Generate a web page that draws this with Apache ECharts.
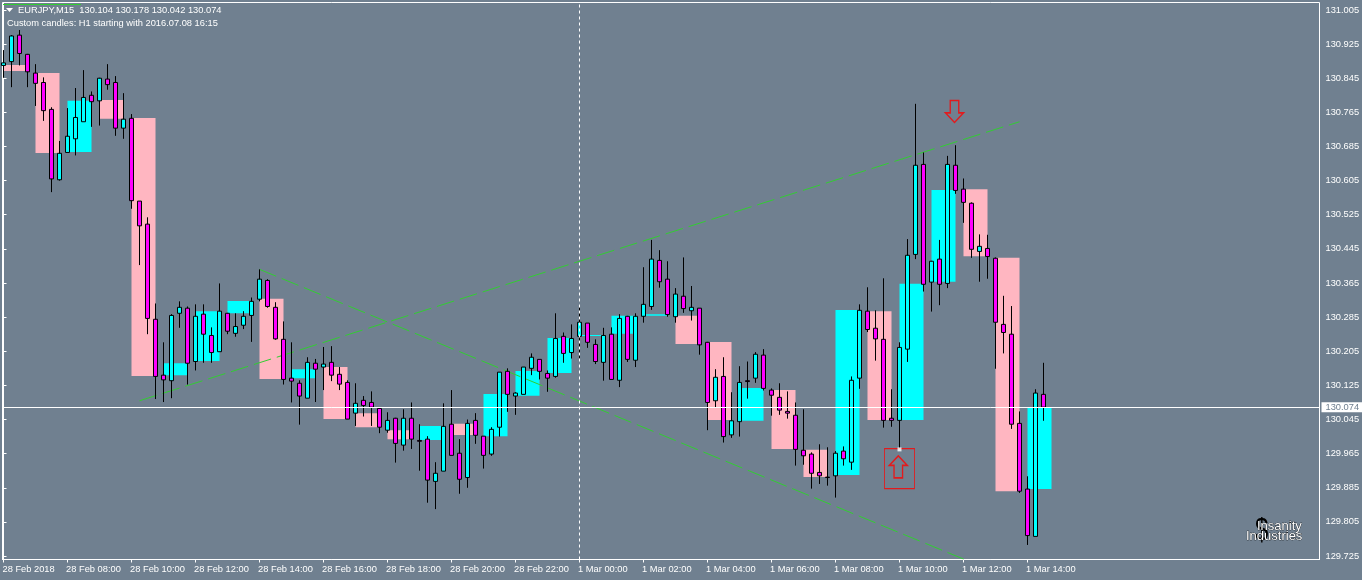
<!DOCTYPE html>
<html>
<head>
<meta charset="utf-8">
<title>EURJPY,M15</title>
<style>
html, body { margin: 0; padding: 0; background: #708090; }
#chart { width: 1362px; height: 580px; }
</style>
<script src="https://cdn.jsdelivr.net/npm/echarts@6/dist/echarts.min.js"></script>
</head>
<body>
<div id="chart"></div>
<script>
// M15 candles, one value per bar
const candleOpen = [
    130.875,130.884,130.946,130.901,130.857,130.835,130.772,130.607,130.671,130.703,
    130.743,130.805,130.792,130.843,130.835,130.728,130.751,130.557,130.503,130.280,
    130.149,130.136,130.294,130.306,130.181,130.292,130.242,130.204,130.294,130.247,
    130.266,130.289,130.327,130.371,130.308,130.233,130.142,130.130,130.095,130.177,
    130.168,130.179,130.151,130.132,130.060,130.090,130.085,130.071,130.020,130.048,
    129.985,130.048,129.996,129.999,129.900,129.924,130.034,129.966,129.909,130.043,
    130.006,129.964,130.027,130.158,130.100,130.104,130.165,130.186,130.153,130.146,
    130.240,130.202,130.240,130.271,130.221,130.179,130.245,130.137,130.287,130.184,
    130.287,130.310,130.418,130.374,130.286,130.334,130.300,130.306,130.226,130.089,
    130.146,130.009,130.040,130.136,130.142,130.196,130.114,130.097,130.064,130.055,
    129.973,129.964,129.921,129.910,129.913,129.971,129.945,130.142,130.299,130.259,
    130.233,130.048,130.043,130.210,130.432,130.643,130.367,130.421,130.364,130.641,
    130.585,130.552,130.439,130.446,130.423,130.268,130.245,130.036,129.882,129.771,130.104
];
const candleClose = [
    130.881,130.944,130.903,130.860,130.833,130.769,130.609,130.669,130.709,130.753,
    130.800,130.790,130.845,130.830,130.728,130.749,130.558,130.499,130.282,130.146,
    130.138,130.289,130.308,130.177,130.287,130.245,130.202,130.299,130.252,130.263,
    130.287,130.322,130.374,130.310,130.234,130.139,130.135,130.100,130.179,130.163,
    130.175,130.149,130.128,130.046,130.083,130.078,130.074,130.027,130.043,129.989,
    130.048,129.999,129.994,129.903,129.919,130.029,129.961,129.905,130.036,130.008,
    129.961,130.022,130.156,130.104,130.107,130.168,130.191,130.158,130.142,130.235,
    130.200,130.235,130.273,130.226,130.181,130.242,130.139,130.282,130.186,130.287,
    130.315,130.421,130.368,130.291,130.339,130.305,130.308,130.220,130.085,130.144,
    130.005,130.042,130.132,130.134,130.198,130.118,130.102,130.067,130.060,129.975,
    129.960,129.919,129.913,129.909,129.966,129.953,130.137,130.301,130.256,130.234,
    130.043,130.043,130.214,130.430,130.641,130.362,130.416,130.362,130.643,130.582,
    130.554,130.444,130.451,130.427,130.273,130.249,130.034,129.877,129.773,130.107,130.074
];
const candleLow = [
    130.846,130.824,130.875,130.824,130.780,130.745,130.578,130.605,130.671,130.664,
    130.743,130.731,130.734,130.818,130.710,130.703,130.539,130.407,130.245,130.093,
    130.086,130.095,130.260,130.127,130.160,130.178,130.178,130.204,130.245,130.239,
    130.257,130.227,130.322,130.307,130.232,130.127,130.085,130.033,130.095,130.086,
    130.114,130.135,130.114,130.046,130.030,130.052,130.030,130.013,130.014,129.944,
    129.972,129.976,129.925,129.850,129.835,129.924,129.961,129.871,129.885,129.988,
    129.930,129.960,130.005,130.063,130.056,130.104,130.149,130.139,130.110,130.143,
    130.178,130.188,130.188,130.213,130.175,130.136,130.139,130.121,130.180,130.168,
    130.272,130.302,130.354,130.286,130.272,130.295,130.277,130.197,130.020,130.073,
    129.991,130.002,130.005,130.094,130.131,130.113,130.054,130.056,130.047,129.937,
    129.939,129.883,129.894,129.890,129.862,129.937,129.927,130.117,130.250,130.183,
    130.026,130.028,129.976,130.180,130.421,130.345,130.298,130.313,130.353,130.574,
    130.506,130.424,130.368,130.375,130.164,130.200,130.023,129.873,129.751,129.771,130.042
];
const candleHigh = [
    130.911,130.946,130.958,130.902,130.878,130.847,130.777,130.698,130.775,130.822,
    130.864,130.814,130.846,130.878,130.850,130.810,130.761,130.557,130.519,130.317,
    130.226,130.292,130.322,130.310,130.315,130.315,130.261,130.364,130.295,130.294,
    130.299,130.331,130.397,130.374,130.320,130.275,130.226,130.137,130.191,130.187,
    130.215,130.217,130.168,130.137,130.130,130.100,130.111,130.074,130.062,130.049,
    130.069,130.085,130.034,130.006,129.945,130.083,130.114,129.999,130.045,130.060,
    130.006,130.027,130.156,130.165,130.109,130.168,130.200,130.186,130.160,130.294,
    130.249,130.268,130.308,130.271,130.233,130.260,130.261,130.292,130.288,130.294,
    130.402,130.466,130.442,130.416,130.353,130.425,130.358,130.306,130.227,130.163,
    130.191,130.109,130.170,130.181,130.203,130.210,130.118,130.130,130.111,130.085,
    130.069,129.968,129.987,129.980,129.971,129.982,130.146,130.315,130.355,130.301,
    130.376,130.116,130.226,130.468,130.785,130.671,130.417,130.466,130.663,130.688,
    130.610,130.554,130.479,130.478,130.425,130.335,130.311,130.064,129.912,130.116,130.178
];

// custom H1 candles, first M15 bar of each one plus its open and close
const h1Start = [0,4,8,12,16,20,24,28,32,36,40,44,48,52,56,60,64,68,72,76,80,84,88,92,96,100,104,108,112,116,120,124,128];
const h1Open = [
    130.876,130.857,130.672,130.794,130.752,130.149,130.182,130.294,130.328,130.142,130.168,
    130.060,130.020,129.997,130.035,130.006,130.101,130.154,130.241,130.246,130.288,130.288,
    130.227,130.042,130.114,129.974,129.915,130.299,130.044,130.368,130.585,130.424,129.882
];
const h1Close = [
    130.862,130.670,130.792,130.750,130.147,130.177,130.299,130.323,130.140,130.163,130.046,
    130.027,129.999,130.030,130.009,130.105,130.159,130.236,130.243,130.288,130.292,130.222,
    130.044,130.119,129.976,129.910,130.302,130.044,130.363,130.583,130.428,129.877,130.073
];

const trendDown = [[32, 130.397], [120, 129.718]];
const trendUp = [[17, 130.089], [127, 130.743]];

const lastPrice = 130.074;
const cursorBar = 72;
const arrowUp = [111.85, 129.934];
const arrowDown = [118.875, 130.767];
const signalBox = [112, 129.930];
const signalDot = [112, 129.975];

const priceTicks = [129.725,129.805,129.885,129.965,130.045,130.125,130.205,130.285,130.365,130.445,130.525,130.605,130.685,130.765,130.845,130.925,131.005];
const timeTicks = [0,8,16,24,32,40,48,56,64,72,80,88,96,104,112,120,128];
const timeLabels = [
    '28 Feb 2018','28 Feb 08:00','28 Feb 10:00','28 Feb 12:00','28 Feb 14:00','28 Feb 16:00',
    '28 Feb 18:00','28 Feb 20:00','28 Feb 22:00','1 Mar 00:00','1 Mar 02:00','1 Mar 04:00',
    '1 Mar 06:00','1 Mar 08:00','1 Mar 10:00','1 Mar 12:00','1 Mar 14:00'
];

const uiFont = '"Liberation Sans", sans-serif';

let chart = echarts.init(document.getElementById('chart'));
let candleData = candleOpen.map(function (o, i) {
    return [i, o, candleClose[i], candleLow[i], candleHigh[i]];
});
let h1Data = h1Start.map(function (s, i) {
    return [s, h1Open[i], h1Close[i]];
});
// labels start a little left of their tick, the first one sits on the border
let timeLabelPos = timeTicks.map(function (t) {
    return t === 0 ? -0.125 : t - 0.18;
});

let option = {
    animation: false,
    backgroundColor: '#708090',
    title: [{
        text: 'EURJPY,M15  130.104 130.178 130.042 130.074',
        left: 18,
        top: 6,
        padding: 0,
        textStyle: { color: '#fff', fontSize: 9.3, fontWeight: 'normal', fontFamily: uiFont }
    }, {
        text: 'Custom candles: H1 starting with 2016.07.08 16:15',
        left: 7,
        top: 19,
        padding: 0,
        textStyle: { color: '#fff', fontSize: 9.3, fontWeight: 'normal', fontFamily: uiFont }
    }],
    grid: {
        left: 2.5,
        top: 2.5,
        width: 1317,
        height: 557,
        outerBoundsMode: 'none',
        show: true,
        backgroundColor: 'transparent',
        borderColor: '#fff',
        borderWidth: 1
    },
    xAxis: {
        type: 'value',
        min: -0.125,
        max: 164.5,
        splitLine: { show: false },
        axisLine: { lineStyle: { color: '#fff' } },
        axisTick: { length: 3, lineStyle: { color: '#fff' }, customValues: timeTicks },
        axisLabel: {
            customValues: timeLabelPos,
            color: '#fff',
            fontSize: 9.3,
            fontFamily: uiFont,
            align: 'left',
            margin: 5,
            formatter: function (v) { return timeLabels[Math.round(v / 8)]; }
        }
    },
    yAxis: {
        type: 'value',
        position: 'right',
        min: 129.7169,
        max: 131.0225,
        splitLine: { show: false },
        axisLine: { show: true, lineStyle: { color: '#fff' } },
        axisTick: { show: true, length: 3, lineStyle: { color: '#fff' }, customValues: priceTicks },
        axisLabel: {
            customValues: priceTicks,
            color: '#fff',
            fontSize: 9.3,
            fontFamily: uiFont,
            margin: 6,
            padding: [2, 0, 0, 0],
            formatter: function (v) { return v.toFixed(3); }
        }
    },
    series: [
        {
            // H1 blocks behind everything
            name: 'H1',
            type: 'custom',
            z: 1,
            clip: true,
            data: h1Data,
            encode: { x: 0, y: [1, 2] },
            renderItem: function (params, api) {
                let a = api.coord([api.value(0), api.value(1)]);
                let b = api.coord([api.value(0) + 3, api.value(2)]);
                return {
                    type: 'rect',
                    shape: {
                        x: a[0],
                        y: Math.min(a[1], b[1]),
                        width: b[0] - a[0],
                        height: Math.max(Math.abs(b[1] - a[1]), 1)
                    },
                    style: { fill: api.value(2) >= api.value(1) ? '#00FFFF' : '#FFB6C1' }
                };
            }
        },
        {
            name: 'cursor',
            type: 'line',
            z: 2,
            data: [],
            markLine: {
                silent: true,
                symbol: 'none',
                animation: false,
                precision: 3,
                data: [{
                    yAxis: lastPrice,
                    lineStyle: { color: '#fff', width: 1, type: 'solid' },
                    label: {
                        show: true,
                        position: 'end',
                        distance: 2,
                        formatter: lastPrice.toFixed(3),
                        color: '#708090',
                        backgroundColor: '#fff',
                        fontSize: 9.3,
                        fontFamily: uiFont,
                        padding: [1, 4, 0, 4]
                    }
                }, {
                    xAxis: cursorBar,
                    lineStyle: { color: '#fff', width: 1, type: [3, 3] },
                    label: { show: false }
                }]
            }
        },
        {
            name: 'trend down',
            type: 'line',
            z: 3,
            data: trendDown,
            symbol: 'none',
            lineStyle: { color: '#32cd32', width: 1, type: [18, 6] }
        },
        {
            name: 'trend up',
            type: 'line',
            z: 3,
            data: trendUp,
            symbol: 'none',
            lineStyle: { color: '#32cd32', width: 1, type: [18, 6] }
        },
        {
            name: 'M15',
            type: 'candlestick',
            z: 4,
            barWidth: 5,
            data: candleData,
            itemStyle: {
                color: '#00FFFF',
                color0: '#FF00FF',
                borderColor: '#000',
                borderColor0: '#000',
                borderWidth: 1
            }
        },
        {
            name: 'arrow up',
            type: 'scatter',
            z: 5,
            data: [arrowUp],
            symbol: 'path://M9.5 0L19 10H14V23H5V10H0Z',
            symbolSize: [18, 22],
            itemStyle: { color: 'transparent', borderColor: '#f00', borderWidth: 1.5 }
        },
        {
            name: 'arrow down',
            type: 'scatter',
            z: 5,
            data: [arrowDown],
            symbol: 'path://M5 0H14V13H19L9.5 23L0 13H5Z',
            symbolSize: [18, 22],
            itemStyle: { color: 'transparent', borderColor: '#f00', borderWidth: 1.5 }
        },
        {
            name: 'signal box',
            type: 'scatter',
            z: 5,
            data: [signalBox],
            symbol: 'rect',
            symbolSize: [30, 40],
            itemStyle: { color: 'transparent', borderColor: '#f00', borderWidth: 1 }
        },
        {
            name: 'signal dot',
            type: 'scatter',
            z: 6,
            data: [signalDot],
            symbol: 'rect',
            symbolSize: 4,
            itemStyle: { color: '#fff', borderColor: '#000', borderWidth: 0 }
        }
    ],
    graphic: [
        // progress line and the little menu triangle
        { type: 'line', z: 10, shape: { x1: 3, y1: 4.5, x2: 81, y2: 4.5 }, style: { stroke: '#32cd32', lineWidth: 1 } },
        { type: 'polygon', z: 10, shape: { points: [[6, 8], [13, 8], [9.5, 12]] }, style: { fill: '#fff' } },
        // logo
        { type: 'text', z: 10, x: 1255, y: 515, scaleX: 0.75, style: { text: '$', fill: '#000', fontSize: 32, fontWeight: 'normal', fontFamily: 'Liberation Sans' } },
        { type: 'text', z: 11, x: 1257, y: 520, style: { text: 'Insanity', fill: '#fff', stroke: '#000', lineWidth: 0.6, fontSize: 13, fontFamily: 'Liberation Sans' } },
        { type: 'text', z: 11, x: 1246, y: 530, style: { text: 'Industries', fill: '#fff', stroke: '#000', lineWidth: 0.6, fontSize: 13, fontFamily: 'Liberation Sans' } }
    ]
};
chart.setOption(option);
</script>
</body>
</html>
